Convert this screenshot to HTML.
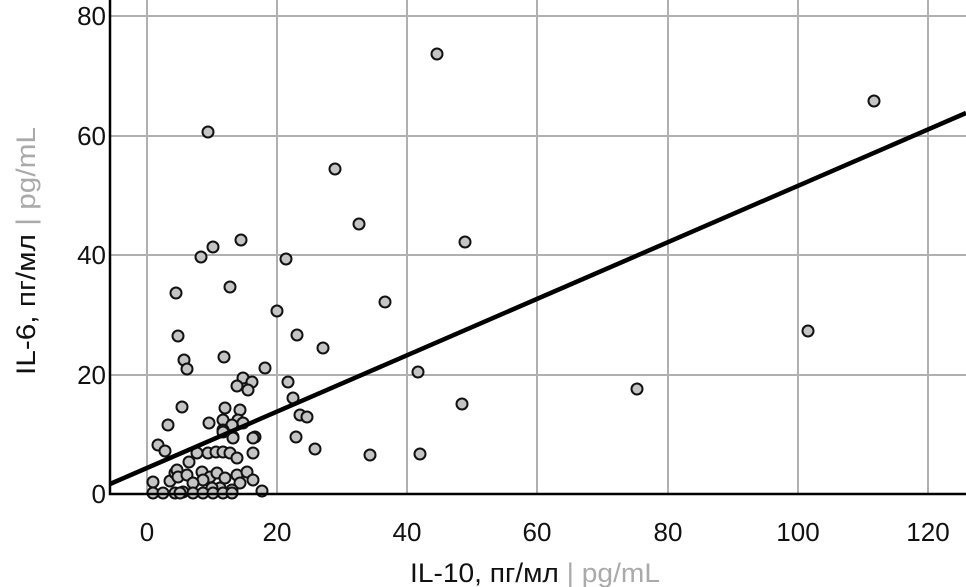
<!DOCTYPE html>
<html><head><meta charset="utf-8"><style>
html,body{margin:0;padding:0;background:#fff;}
svg{display:block;font-family:"Liberation Sans",sans-serif;}
</style></head><body>
<svg width="966" height="587" viewBox="0 0 966 587">
<g stroke="#b0b0b0" stroke-width="2">
<line x1="277" y1="0" x2="277" y2="494"/><line x1="407" y1="0" x2="407" y2="494"/>
<line x1="537" y1="0" x2="537" y2="494"/><line x1="668" y1="0" x2="668" y2="494"/>
<line x1="798" y1="0" x2="798" y2="494"/><line x1="928" y1="0" x2="928" y2="494"/>
<line x1="147" y1="0" x2="147" y2="494"/>
<line x1="110" y1="16" x2="966" y2="16"/><line x1="110" y1="136" x2="966" y2="136"/>
<line x1="110" y1="255" x2="966" y2="255"/><line x1="110" y1="375" x2="966" y2="375"/>
</g>
<g fill="#c4c4c4" stroke="#111" stroke-width="2">
<circle cx="437" cy="54" r="5.5"/><circle cx="874" cy="101" r="5.5"/><circle cx="208" cy="132" r="5.5"/>
<circle cx="335" cy="169" r="5.5"/><circle cx="359" cy="224" r="5.5"/><circle cx="465" cy="242" r="5.5"/>
<circle cx="213" cy="247" r="5.5"/><circle cx="201" cy="257" r="5.5"/><circle cx="241" cy="240" r="5.5"/>
<circle cx="286" cy="259" r="5.5"/><circle cx="176" cy="293" r="5.5"/><circle cx="230" cy="287" r="5.5"/>
<circle cx="385" cy="302" r="5.5"/><circle cx="277" cy="311" r="5.5"/><circle cx="178" cy="336" r="5.5"/>
<circle cx="297" cy="335" r="5.5"/><circle cx="323" cy="348" r="5.5"/><circle cx="184" cy="360" r="5.5"/>
<circle cx="187" cy="369" r="5.5"/><circle cx="224" cy="357" r="5.5"/><circle cx="265" cy="368" r="5.5"/>
<circle cx="808" cy="331" r="5.5"/><circle cx="637" cy="389" r="5.5"/><circle cx="418" cy="372" r="5.5"/>
<circle cx="462" cy="404" r="5.5"/><circle cx="288" cy="382" r="5.5"/><circle cx="293" cy="398" r="5.5"/>
<circle cx="243" cy="378" r="5.5"/><circle cx="237" cy="386" r="5.5"/><circle cx="252" cy="382" r="5.5"/>
<circle cx="248" cy="390" r="5.5"/><circle cx="300" cy="415" r="5.5"/><circle cx="307" cy="417" r="5.5"/>
<circle cx="225" cy="408" r="5.5"/><circle cx="240" cy="410" r="5.5"/><circle cx="223" cy="420" r="5.5"/>
<circle cx="238" cy="420" r="5.5"/><circle cx="209" cy="423" r="5.5"/><circle cx="232" cy="425" r="5.5"/>
<circle cx="243" cy="423" r="5.5"/><circle cx="223" cy="430" r="5.5"/><circle cx="233" cy="437" r="5.5"/>
<circle cx="255" cy="437" r="5.5"/><circle cx="296" cy="437" r="5.5"/><circle cx="315" cy="449" r="5.5"/>
<circle cx="370" cy="455" r="5.5"/><circle cx="420" cy="454" r="5.5"/><circle cx="182" cy="407" r="5.5"/>
<circle cx="168" cy="425" r="5.5"/><circle cx="158" cy="445" r="5.5"/><circle cx="165" cy="451" r="5.5"/>
<circle cx="153" cy="482" r="5.5"/><circle cx="153" cy="493" r="5.5"/><circle cx="163" cy="493" r="5.5"/>
<circle cx="170" cy="481" r="5.5"/><circle cx="175" cy="473" r="5.5"/><circle cx="177" cy="470" r="5.5"/>
<circle cx="189" cy="462" r="5.5"/><circle cx="197" cy="453" r="5.5"/><circle cx="208" cy="453" r="5.5"/>
<circle cx="216" cy="452" r="5.5"/><circle cx="223" cy="452" r="5.5"/><circle cx="230" cy="453" r="5.5"/>
<circle cx="237" cy="458" r="5.5"/><circle cx="253" cy="453" r="5.5"/><circle cx="253" cy="438" r="5.5"/>
<circle cx="233" cy="438" r="5.5"/><circle cx="223" cy="432" r="5.5"/><circle cx="178" cy="477" r="5.5"/>
<circle cx="187" cy="475" r="5.5"/><circle cx="202" cy="472" r="5.5"/><circle cx="210" cy="477" r="5.5"/>
<circle cx="217" cy="473" r="5.5"/><circle cx="225" cy="478" r="5.5"/><circle cx="237" cy="475" r="5.5"/>
<circle cx="247" cy="472" r="5.5"/><circle cx="253" cy="480" r="5.5"/><circle cx="262" cy="491" r="5.5"/>
<circle cx="240" cy="483" r="5.5"/><circle cx="232" cy="490" r="5.5"/><circle cx="220" cy="488" r="5.5"/>
<circle cx="212" cy="488" r="5.5"/><circle cx="203" cy="480" r="5.5"/><circle cx="193" cy="483" r="5.5"/>
<circle cx="183" cy="492" r="5.5"/><circle cx="193" cy="493" r="5.5"/><circle cx="203" cy="493" r="5.5"/>
<circle cx="213" cy="493" r="5.5"/><circle cx="223" cy="493" r="5.5"/><circle cx="232" cy="493" r="5.5"/>
<circle cx="175" cy="493" r="5.5"/><circle cx="180" cy="493" r="5.5"/>
</g>
<line x1="110" y1="484" x2="966" y2="113" stroke="#000" stroke-width="4.5"/>
<polyline points="110,0 110,494 966,494" fill="none" stroke="#000" stroke-width="2.5"/>
<g font-size="26" fill="#111" text-anchor="end">
<text x="106" y="25">80</text><text x="106" y="145">60</text><text x="106" y="264">40</text>
<text x="106" y="384">20</text><text x="106" y="503">0</text>
</g>
<g font-size="26" fill="#111" text-anchor="middle">
<text x="147" y="541">0</text><text x="277" y="541">20</text><text x="407" y="541">40</text>
<text x="537" y="541">60</text><text x="668" y="541">80</text><text x="798" y="541">100</text>
<text x="928" y="541">120</text>
</g>
<text x="535" y="582" font-size="27" text-anchor="middle" fill="#111" textLength="250" lengthAdjust="spacingAndGlyphs">IL-10, пг/мл <tspan fill="#aaa">| pg/mL</tspan></text>
<text transform="translate(35,251) rotate(-90)" font-size="27" text-anchor="middle" fill="#111" textLength="248" lengthAdjust="spacingAndGlyphs">IL-6, пг/мл <tspan fill="#aaa">| pg/mL</tspan></text>
</svg>
</body></html>
